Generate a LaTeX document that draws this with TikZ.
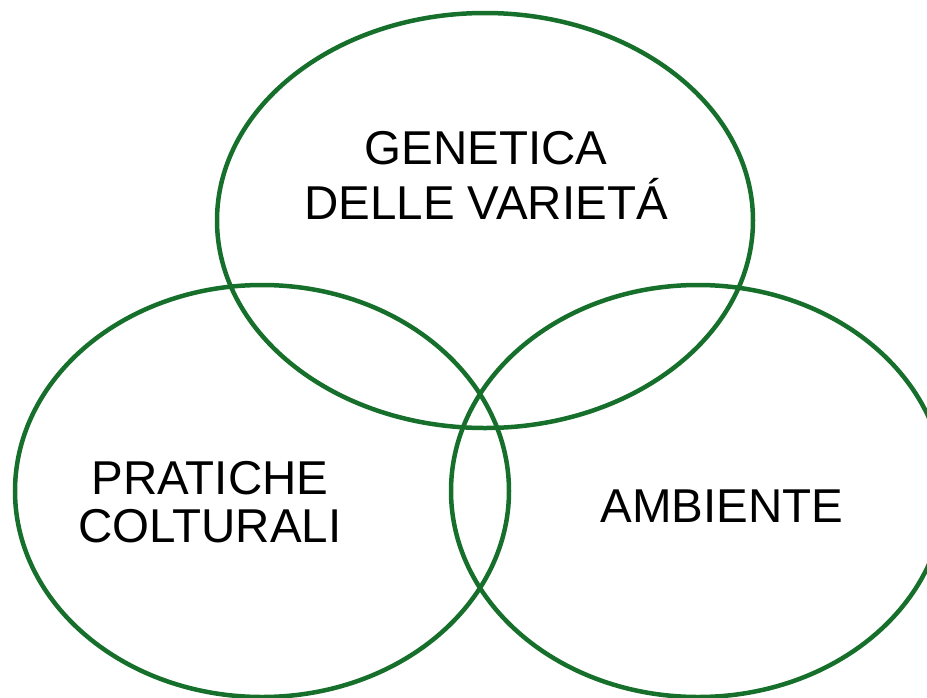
\documentclass[tikz,border=0pt]{standalone}
\usepackage{fontspec}
\setmainfont{Liberation Sans}
\usetikzlibrary{shapes.geometric}
\definecolor{vennGreen}{RGB}{22,112,44}
\tikzset{
  venn/.style={draw=vennGreen, line width=4.5pt, ellipse, inner sep=0pt, outer sep=0pt},
  lbl/.style={align=center, inner sep=0pt, font=\fontsize{47.5pt}{55pt}\selectfont, text=black}
}
\begin{document}
\begin{tikzpicture}[x=1pt,y=-1pt]
\useasboundingbox (0,0) rectangle (927,697);
\clip (0,0) rectangle (927,697);
\node[venn, minimum width=536pt, minimum height=415pt] (top) at (485,220.5) {};
\node[venn, minimum width=494pt, minimum height=412pt] (left) at (262,491) {};
\node[venn, minimum width=494pt, minimum height=412pt] (right) at (698,491) {};
\node[lbl] (gen) at (486,175.5) {GENETICA\\DELLE VARIETÁ};
\node[lbl, font=\fontsize{47.5pt}{48pt}\selectfont] (prat) at (210,502) {PRATICHE\\COLTURALI};
\node[lbl, anchor=base] (amb) at (722,522) {AMBIENTE};
\end{tikzpicture}
\end{document}
